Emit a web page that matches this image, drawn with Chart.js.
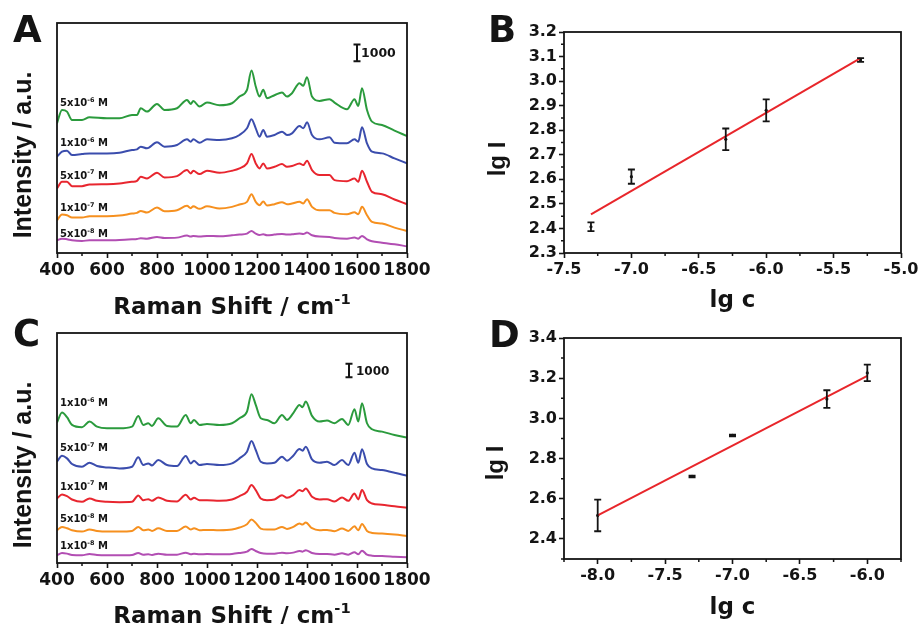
<!DOCTYPE html>
<html>
<head>
<meta charset="utf-8">
<script src="https://cdn.jsdelivr.net/npm/chart.js@4.4.1/dist/chart.umd.min.js"></script>
<style>
  html, body { margin: 0; padding: 0; background: #fff; }
  body { width: 921px; height: 624px; position: relative; overflow: hidden; }
  canvas { position: absolute; }
</style>
</head>
<body>
<canvas id="chartA" width="460" height="320" style="left:0;top:0"></canvas>
<canvas id="chartB" width="461" height="320" style="left:460px;top:0"></canvas>
<canvas id="chartC" width="460" height="314" style="left:0;top:310px"></canvas>
<canvas id="chartD" width="461" height="314" style="left:460px;top:310px"></canvas>
<script>
// ---- panel A: spectra, 5x10^-8 .. 5x10^-6 M ----
const wnA = [400,420,440,460,500,530,600,650,700,720,735,760,800,830,880,920,935,945,970,1000,1050,1100,1130,1160,1178,1195,1210,1225,1240,1270,1300,1320,1340,1370,1385,1400,1420,1450,1490,1510,1560,1590,1605,1620,1640,1660,1700,1750,1800];
const greenA  = [7760,8560,8460,7960,7960,8120,8060,8060,8260,8260,8660,8460,8920,8560,8660,9160,8920,9100,8760,9000,8840,8960,9360,9760,10920,9960,9360,9760,9260,9440,9600,9360,9560,10160,10000,10520,9360,9100,9200,9000,8600,9200,8800,9860,8560,7860,7660,7320,7000];
const blueA   = [5760,6060,6120,5860,5920,5960,5960,6000,6160,6200,6360,6260,6620,6360,6460,6800,6660,6800,6600,6800,6760,6860,7060,7460,8000,7460,6960,7360,6960,7060,7260,7060,7160,7600,7460,7820,7060,6800,6920,6600,6560,6800,6660,7520,6560,6060,5960,5660,5360];
const redA    = [3860,4260,4260,4000,4000,4100,4120,4160,4260,4320,4560,4460,4800,4520,4600,4960,4760,4920,4720,4920,4800,4920,5060,5360,5920,5360,5060,5360,5060,5160,5320,5160,5200,5360,5260,5520,4960,4660,4660,4360,4300,4460,4260,4920,4260,3660,3520,3200,2920];
const orangeA = [1960,2300,2260,2120,2120,2200,2200,2240,2360,2400,2520,2420,2720,2500,2560,2820,2680,2800,2640,2800,2660,2760,2900,3060,3520,3060,2860,3080,2840,2920,3040,2920,2960,3060,2960,3220,2760,2560,2560,2400,2320,2440,2320,2760,2260,1860,1760,1520,1320];
const purpleA = [760,860,820,760,720,760,760,780,820,840,880,860,960,900,920,1040,980,1020,980,1020,1000,1060,1100,1160,1320,1160,1080,1120,1060,1100,1140,1100,1120,1160,1140,1220,1060,980,960,900,860,920,860,1020,820,700,620,520,400];
const concA = [['5x10','-6'],['1x10','-6'],['5x10','-7'],['1x10','-7'],['5x10','-8']];

// ---- panel C: spectra, 1x10^-8 .. 1x10^-6 M ----
const wnC = [400,420,440,460,500,530,560,600,650,700,725,745,765,780,805,840,880,915,935,948,970,1000,1050,1100,1130,1160,1178,1195,1215,1240,1270,1300,1320,1345,1370,1382,1395,1420,1450,1480,1510,1540,1565,1590,1605,1620,1640,1660,1700,1750,1800];
const greenC  = [10500,11250,10900,10325,10150,10575,10200,10075,10075,10200,11000,10325,10450,10250,10825,10250,10200,11075,10450,10700,10325,10400,10325,10450,10825,11325,12625,11825,10825,10700,10450,11075,10700,11200,11825,11650,12075,11000,10575,10650,10450,10775,10325,11500,10575,11950,10450,10000,9825,9575,9375];
const blueC   = [7575,8025,7825,7400,7200,7500,7250,7150,7075,7200,7900,7325,7450,7300,7700,7325,7250,8000,7450,7650,7325,7400,7325,7450,7825,8325,9125,8450,7575,7450,7500,7950,7650,8025,8525,8400,8700,7750,7500,7575,7325,7700,7325,8250,7500,8500,7400,7075,6950,6750,6525];
const redC    = [4825,5125,5000,4750,4575,4825,4650,4575,4550,4575,5050,4700,4775,4650,4900,4650,4600,5100,4750,4875,4700,4700,4650,4750,5000,5325,5825,5450,4825,4700,4750,5075,4875,5075,5450,5375,5575,4950,4750,4775,4600,4900,4650,5200,4750,5450,4700,4450,4350,4250,4125];
const orangeC = [2450,2700,2600,2450,2350,2500,2400,2350,2350,2400,2700,2450,2500,2400,2600,2400,2400,2725,2500,2600,2450,2475,2450,2500,2650,2900,3250,3000,2575,2500,2500,2700,2550,2700,2950,2875,3025,2600,2450,2475,2375,2575,2400,2750,2450,2925,2400,2250,2200,2125,2025];
const purpleC = [575,750,700,600,575,675,600,575,575,600,750,625,650,600,700,625,625,775,650,700,650,675,650,675,750,850,1050,900,750,700,700,775,725,775,900,850,950,750,675,675,625,725,625,800,650,925,625,550,525,475,425];
const concC = [['1x10','-6'],['5x10','-7'],['1x10','-7'],['5x10','-8'],['1x10','-8']];

const ramanTicks = [400,600,800,1000,1200,1400,1600,1800];
const ramanMinor = [500,700,900,1100,1300,1500,1700];

// ---- panel B: calibration ----
const lgcB = [-7.3,-7.0,-6.3,-6.0,-5.3];
const lgIB = [2.407,2.611,2.763,2.881,3.086];
const errB = [0.018,0.029,0.044,0.045,0.008];
const fitXB = [-7.3,-5.3];
const fitYB = [2.457,3.094];
const ticksBx = [-7.5,-7.0,-6.5,-6.0,-5.5,-5.0];
const minorBx = [-7.25,-6.75,-6.25,-5.75,-5.25];
const ticksBy = [2.3,2.4,2.5,2.6,2.7,2.8,2.9,3.0,3.1,3.2];
const minorBy = [2.35,2.45,2.55,2.65,2.75,2.85,2.95,3.05,3.15];

// ---- panel D: calibration ----
const lgcD = [-8.0,-7.3,-7.0,-6.3,-6.0];
const lgID = [2.517,2.711,2.915,3.096,3.226];
const errD = [0.079,0.004,0.004,0.044,0.041];
const fitXD = [-8.0,-6.0];
const fitYD = [2.517,3.212];
const ticksDx = [-8.0,-7.5,-7.0,-6.5,-6.0];
const minorDx = [-8.25,-7.75,-7.25,-6.75,-6.25,-5.75];
const ticksDy = [2.4,2.6,2.8,3.0,3.2,3.4];
const minorDy = [2.3,2.5,2.7,2.9,3.1,3.3];

const lineColors = ['#2b9b3d', '#3b4dad', '#e8262f', '#f6901f', '#b24eb3'];
const INK = '#141414';
const HFONT = '"DejaVu Sans", sans-serif';
const VFONT = '"Liberation Sans", Arial, sans-serif';

function richText(ctx, parts, x, y, size, align) {
  const fonts = parts.map(p => 'bold ' + (p[1] ? size * 0.64 : size) + 'px ' + HFONT);
  let total = 0;
  const widths = parts.map((p, i) => { ctx.font = fonts[i]; const w = ctx.measureText(p[0]).width; total += w; return w; });
  let cx = align === 'center' ? x - total / 2 : x;
  ctx.textAlign = 'left';
  ctx.textBaseline = 'alphabetic';
  parts.forEach((p, i) => {
    ctx.font = fonts[i];
    ctx.fillText(p[0], cx, p[1] ? y - size * 0.42 : y);
    cx += widths[i];
  });
}

function vText(ctx, text, x, y, size) {
  ctx.save();
  ctx.translate(x, y);
  ctx.rotate(-Math.PI / 2);
  ctx.font = 'bold ' + size + 'px ' + VFONT;
  ctx.textAlign = 'center';
  ctx.textBaseline = 'alphabetic';
  ctx.fillText(text, 0, 0);
  ctx.restore();
}

// frame, minor ticks, error bars, scale bar and all the titles
function makeDecor(cfg) {
  return {
    id: 'decor',
    afterDraw(chart) {
      const ctx = chart.ctx, a = chart.chartArea, sx = chart.scales.x, sy = chart.scales.y;
      ctx.save();
      ctx.strokeStyle = INK;
      ctx.fillStyle = INK;
      ctx.lineWidth = 1.5;
      ctx.beginPath();
      (cfg.minorX || []).forEach(v => { const p = sx.getPixelForValue(v); ctx.moveTo(p, a.bottom); ctx.lineTo(p, a.bottom + 3); });
      (cfg.minorY || []).forEach(v => { const p = sy.getPixelForValue(v); ctx.moveTo(a.left, p); ctx.lineTo(a.left - 3, p); });
      ctx.stroke();

      ctx.lineWidth = 1.8;
      ctx.strokeRect(a.left, a.top, a.right - a.left, a.bottom - a.top);

      if (cfg.err) {
        ctx.lineWidth = 1.8;
        cfg.err.x.forEach((xv, i) => {
          const px = sx.getPixelForValue(xv);
          const top = sy.getPixelForValue(cfg.err.y[i] + cfg.err.e[i]);
          const bot = sy.getPixelForValue(cfg.err.y[i] - cfg.err.e[i]);
          ctx.beginPath();
          ctx.moveTo(px, top); ctx.lineTo(px, bot);
          ctx.moveTo(px - 3.5, top); ctx.lineTo(px + 3.5, top);
          ctx.moveTo(px - 3.5, bot); ctx.lineTo(px + 3.5, bot);
          ctx.stroke();
        });
      }

      if (cfg.bar) {
        const px = sx.getPixelForValue(cfg.bar.x);
        const top = sy.getPixelForValue(cfg.bar.y + 1000);
        const bot = sy.getPixelForValue(cfg.bar.y);
        ctx.lineWidth = 2;
        ctx.beginPath();
        ctx.moveTo(px, top); ctx.lineTo(px, bot);
        ctx.moveTo(px - 3.5, top); ctx.lineTo(px + 3.5, top);
        ctx.moveTo(px - 3.5, bot); ctx.lineTo(px + 3.5, bot);
        ctx.stroke();
        ctx.font = 'bold ' + cfg.bar.size + 'px ' + HFONT;
        ctx.textAlign = 'left';
        ctx.textBaseline = 'middle';
        ctx.fillText('1000', px + cfg.bar.gap, (top + bot) / 2 + 1);
      }

      if (cfg.conc) {
        cfg.conc.forEach((c, i) => {
          richText(ctx, [[c[0], false], [c[1], true], [' M', false]], a.left + 3, cfg.concY[i], 10, 'left');
        });
      }

      ctx.font = 'bold 37px ' + HFONT;
      ctx.textAlign = 'left';
      ctx.textBaseline = 'alphabetic';
      ctx.fillText(cfg.letter, cfg.letterX, cfg.letterY);

      richText(ctx, cfg.xTitle, (a.left + a.right) / 2, cfg.xTitleY, 23, 'center');
      vText(ctx, cfg.yTitle, cfg.yTitleX, cfg.yTitleY, cfg.yTitleSize);
      ctx.restore();
    }
  };
}

function axisX(min, max, ticks, size, height, fmt) {
  return {
    type: 'linear', min: min, max: max,
    afterBuildTicks: s => { s.ticks = ticks.map(v => ({ value: v })); },
    afterFit: s => { s.height = height; },
    ticks: { color: INK, font: { family: HFONT, size: size, weight: 'bold' }, maxRotation: 0, autoSkip: false, padding: 2,
             callback: fmt },
    grid: { drawOnChartArea: false, tickLength: 5, tickColor: INK, tickWidth: 1.6 },
    border: { display: false }
  };
}

function spectrumChart(id, wn, series, yMax, pad, xH, decor) {
  return new Chart(document.getElementById(id), {
    type: 'line',
    data: {
      datasets: series.map((s, i) => ({
        data: wn.map((x, j) => ({ x: x, y: s[j] })),
        borderColor: lineColors[i], borderWidth: 2, pointRadius: 0, tension: 0.25,
        cubicInterpolationMode: 'monotone', fill: false
      }))
    },
    options: {
      responsive: false, animation: false, events: [],
      layout: { padding: pad },
      plugins: { legend: { display: false }, tooltip: { enabled: false } },
      scales: {
        x: axisX(400, 1800, ramanTicks, 17, xH, v => String(v)),
        y: { type: 'linear', min: 0, max: yMax, ticks: { display: false }, grid: { display: false },
             border: { display: false }, afterFit: s => { s.width = 57; } }
      }
    },
    plugins: [makeDecor(decor)]
  });
}

function calibChart(id, xs, ys, fx, fy, xr, yr, tx, ty, pad, xH, decor) {
  const fmt = v => Number(v).toFixed(1);
  return new Chart(document.getElementById(id), {
    type: 'line',
    data: {
      datasets: [
        { data: fx.map((x, i) => ({ x: x, y: fy[i] })), borderColor: '#e8262b', borderWidth: 2, pointRadius: 0, fill: false },
        { data: xs.map((x, i) => ({ x: x, y: ys[i] })), showLine: false, pointRadius: 1.6, pointBackgroundColor: INK, pointBorderWidth: 0 }
      ]
    },
    options: {
      responsive: false, animation: false, events: [],
      layout: { padding: pad },
      plugins: { legend: { display: false }, tooltip: { enabled: false } },
      scales: {
        x: axisX(xr[0], xr[1], tx, 16, xH, fmt),
        y: {
          type: 'linear', min: yr[0], max: yr[1],
          afterBuildTicks: s => { s.ticks = ty.map(v => ({ value: v })); },
          afterFit: s => { s.width = 104; },
          ticks: { color: INK, font: { family: HFONT, size: 16, weight: 'bold' }, padding: 2, autoSkip: false, callback: fmt },
          grid: { drawOnChartArea: false, tickLength: 5, tickColor: INK, tickWidth: 1.6 },
          border: { display: false }
        }
      }
    },
    plugins: [makeDecor(decor)]
  });
}

const ramanTitle = [['Raman Shift / cm', false], ['-1', true]];

spectrumChart('chartA', wnA, [greenA, blueA, redA, orangeA, purpleA], 13760,
  { left: 0, right: 53, top: 23, bottom: 0 }, 67,
  { minorX: ramanMinor, bar: { x: 1600, y: 11470, size: 12.5, gap: 4 }, conc: concA, concY: [106, 146, 178.5, 211, 237],
    letter: 'A', letterX: 13, letterY: 42, xTitle: ramanTitle, xTitleY: 314,
    yTitle: 'Intensity / a.u.', yTitleX: 31, yTitleY: 155, yTitleSize: 25 });

spectrumChart('chartC', wnC, [greenC, blueC, redC, orangeC, purpleC], 17200,
  { left: 0, right: 53, top: 23, bottom: 0 }, 61,
  { minorX: ramanMinor, bar: { x: 1568, y: 13900, size: 12, gap: 7 }, conc: concC, concY: [96, 141, 179.5, 212, 239],
    letter: 'C', letterX: 13, letterY: 36, xTitle: ramanTitle, xTitleY: 313,
    yTitle: 'Intensity / a.u.', yTitleX: 31, yTitleY: 155, yTitleSize: 25 });

calibChart('chartB', lgcB, lgIB, fitXB, fitYB, [-7.5, -5.0], [2.3, 3.2], ticksBx, ticksBy,
  { left: 0, right: 20, top: 32, bottom: 0 }, 67,
  { minorX: minorBx, minorY: minorBy, err: { x: lgcB, y: lgIB, e: errB },
    letter: 'B', letterX: 28, letterY: 42, xTitle: [['lg c', false]], xTitleY: 307,
    yTitle: 'lg I', yTitleX: 45, yTitleY: 159, yTitleSize: 24 });

calibChart('chartD', lgcD, lgID, fitXD, fitYD, [-8.25, -5.75], [2.3, 3.4], ticksDx, ticksDy,
  { left: 0, right: 20, top: 28, bottom: 0 }, 65,
  { minorX: minorDx, minorY: minorDy, err: { x: lgcD, y: lgID, e: errD },
    letter: 'D', letterX: 29, letterY: 37, xTitle: [['lg c', false]], xTitleY: 304,
    yTitle: 'lg I', yTitleX: 43, yTitleY: 153, yTitleSize: 24 });
</script>
</body>
</html>
